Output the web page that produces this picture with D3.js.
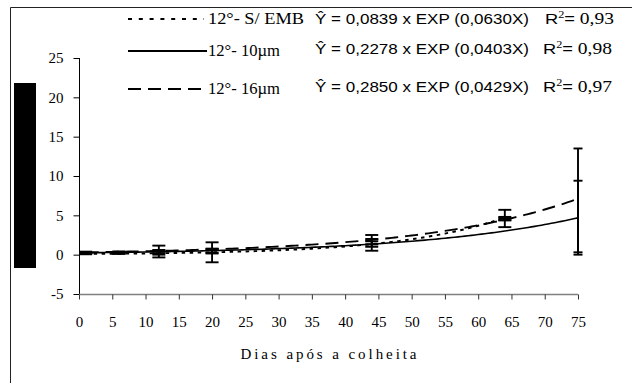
<!DOCTYPE html>
<html>
<head>
<meta charset="utf-8">
<script src="https://cdn.jsdelivr.net/npm/d3@7/dist/d3.min.js"></script>
<style>
  html, body { margin: 0; padding: 0; background: #fff; }
  svg { display: block; }
  .serif { font-family: "Liberation Serif", "Times New Roman", Times, serif; }
  .sans { font-family: "Liberation Sans", Arial, Helvetica, sans-serif; }
</style>
</head>
<body>
<svg id="chart" width="632" height="383"></svg>
<script>
// Treatments (12 °C storage): unwrapped, 10 µm film, 16 µm film
const seriesNames = ["12°- S/ EMB", "12°- 10µm", "12°- 16µm"];
const equations = [
  "Ŷ = 0,0839 x EXP (0,0630X)",
  "Ŷ = 0,2278 x EXP (0,0403X)",
  "Ŷ = 0,2850 x EXP (0,0429X)"
];
const r2Labels = ["0,93", "0,98", "0,97"];
// exponential fit coefficients, as given by the equations
const coefA = [0.0839, 0.2278, 0.2850];
const coefB = [0.0630, 0.0403, 0.0429];

// sampling days and observed means with standard deviations
const daysSemEmb = [1, 6, 12, 20, 44, 64];
const meanSemEmb = [0.15, 0.20, 0.40, 0.30, 1.50, 4.60];
const errSemEmb  = [0.10, 0.10, 0.75, 1.27, 1.00, 1.10];

const days10 = [1, 6, 12, 20, 44, 64, 75];
const mean10 = [0.25, 0.25, 0.30, 0.50, 1.50, 4.50, 4.70];
const err10  = [0.10, 0.12, 0.30, 0.25, 0.50, 0.15, 4.70];

const days16 = [1, 6, 12, 20, 44, 64, 75];
const mean16 = [0.30, 0.30, 0.35, 0.45, 1.50, 4.60, 6.90];
const err16  = [0.08, 0.10, 0.15, 0.30, 0.20, 0.20, 6.60];

const xTicks = [0, 5, 10, 15, 20, 25, 30, 35, 40, 45, 50, 55, 60, 65, 70, 75];
const yTicks = [-5, 0, 5, 10, 15, 20, 25];
const xTitle = "Dias após a colheita";

const seriesDays = [daysSemEmb, days10, days16];
const seriesMean = [meanSemEmb, mean10, mean16];
const seriesErr = [errSemEmb, err10, err16];
const dashStyles = ["3.5,4.5", null, "13,7"];
const legendDash = ["4,6.8", null, "13,7"];

const svg = d3.select("#chart");

// outer frame (left and top edges)
svg.append("path")
  .attr("d", "M10.5,383 V7.5 H632")
  .attr("fill", "none").attr("stroke", "#222").attr("stroke-width", 1);

// dark block on the left side
svg.append("rect")
  .attr("x", 14).attr("y", 83).attr("width", 22).attr("height", 185)
  .attr("fill", "#000");

const x = d3.scaleLinear().domain([0, 75]).range([79, 578]);
const y = d3.scaleLinear().domain([-5, 25]).range([294, 58]);

// y axis
const yAxis = svg.append("g")
  .attr("transform", "translate(79.5,0)")
  .call(d3.axisLeft(y).tickValues(yTicks).tickSize(6).tickPadding(10)
    .tickFormat(d => d3.format("d")(d).replace("−", "-")))
  .attr("font-family", null).attr("font-size", null);
yAxis.select(".domain").attr("stroke", "#000").attr("d", `M0,${y(25)}V${y(-5)}`);
yAxis.selectAll(".tick line").attr("stroke", "#000");
yAxis.selectAll(".tick text")
  .attr("class", "serif").style("font-size", "15px").attr("fill", "#000");

// x axis at y = -5
const xAxis = svg.append("g")
  .attr("transform", `translate(0,${y(-5) + 0.5})`)
  .call(d3.axisBottom(x).tickValues(xTicks).tickSize(5).tickPadding(17))
  .attr("font-family", null).attr("font-size", null);
xAxis.select(".domain").attr("stroke", "#808080").attr("stroke-width", 1.5)
  .attr("d", `M${x(0)},0H${x(75)}`);
xAxis.selectAll(".tick line").attr("stroke", "#333");
xAxis.selectAll(".tick text")
  .attr("class", "serif").style("font-size", "15px").attr("fill", "#000");

svg.append("text")
  .attr("class", "serif")
  .attr("x", (x(0) + x(75)) / 2).attr("y", 359)
  .attr("text-anchor", "middle")
  .style("font-size", "15px")
  .attr("textLength", 176).attr("lengthAdjust", "spacing")
  .text(xTitle);

// error bars
const plot = svg.append("g");
seriesDays.forEach((days, s) => {
  days.forEach((d, i) => {
    const m = seriesMean[s][i], e = seriesErr[s][i];
    const cx = x(d), capW = d === 75 ? 4.5 : 6.5;
    const g = plot.append("g").attr("stroke", "#000").attr("stroke-width", 1.9);
    g.append("line").attr("x1", cx).attr("x2", cx).attr("y1", y(m - e)).attr("y2", y(m + e));
    [m - e, m + e].forEach(v => {
      g.append("line").attr("x1", cx - capW).attr("x2", cx + capW)
        .attr("y1", y(v)).attr("y2", y(v));
    });
  });
});

// exponential trend curves over each series' sampled range
const line = d3.line().x(p => x(p[0])).y(p => y(p[1])).curve(d3.curveLinear);
seriesDays.forEach((days, s) => {
  const lo = d3.min(days), hi = d3.max(days);
  const pts = d3.range(lo, hi + 0.001, 0.5).map(t => [t, coefA[s] * Math.exp(coefB[s] * t)]);
  const p = plot.append("path")
    .attr("d", line(pts))
    .attr("fill", "none").attr("stroke", "#000")
    .attr("stroke-width", s === 1 ? 1.6 : 1.9);
  if (dashStyles[s]) p.attr("stroke-dasharray", dashStyles[s]);
});

// legend with fitted equations
const rowY = [19, 51, 89];
const legend = svg.append("g");
seriesNames.forEach((name, i) => {
  const ry = rowY[i];
  const ln = legend.append("line")
    .attr("x1", 128).attr("x2", i === 1 ? 207 : 204)
    .attr("y1", ry).attr("y2", ry)
    .attr("stroke", "#000").attr("stroke-width", i === 1 ? 2 : 1.9);
  if (legendDash[i]) ln.attr("stroke-dasharray", legendDash[i]);

  legend.append("text")
    .attr("class", "serif")
    .attr("x", 208).attr("y", ry + 5)
    .style("font-size", "16px")
    .attr("textLength", i === 0 ? 96 : 72).attr("lengthAdjust", "spacingAndGlyphs")
    .text(name);

  const eqY = i === 0 ? ry : ry - 2;
  legend.append("text")
    .attr("class", "sans")
    .attr("x", 315).attr("y", eqY + 5)
    .style("font-size", "15.5px")
    .attr("textLength", 214).attr("lengthAdjust", "spacingAndGlyphs")
    .text(equations[i]);

  const r = legend.append("text")
    .attr("x", i === 0 ? 545 : 543).attr("y", eqY + 5)
    .attr("textLength", 69).attr("lengthAdjust", "spacingAndGlyphs")
    .style("font-size", "15px");
  r.append("tspan").attr("class", "sans").text("R");
  r.append("tspan").attr("class", "serif").style("font-size", "10px")
    .attr("dy", -6).text("2");
  r.append("tspan").attr("class", "sans").attr("dy", 6).text("=");
  r.append("tspan").attr("class", "serif").style("font-size", "16px").text(" " + r2Labels[i]);
});
</script>
</body>
</html>
